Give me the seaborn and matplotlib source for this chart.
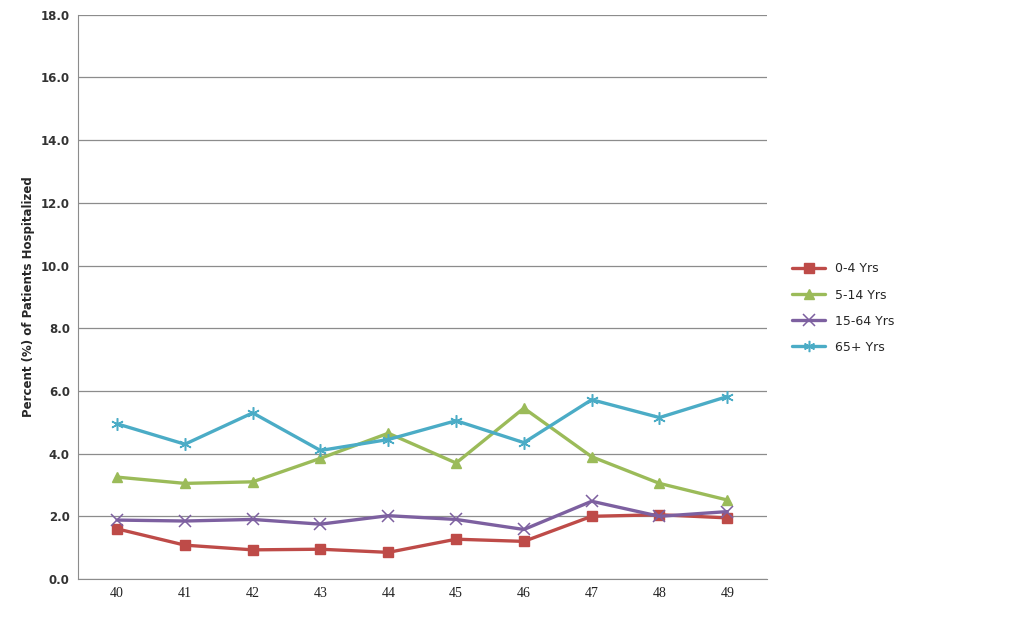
import matplotlib
matplotlib.use("Agg")
import matplotlib.pyplot as plt
import numpy as np
import pandas as pd
import seaborn as sns

weeks = ["40", "41", "42", "43", "44", "45", "46", "47", "48", "49"]
age_groups = ["0-4 Yrs", "5-14 Yrs", "15-64 Yrs", "65+ Yrs"]
v_0_4 = [1.60, 1.08, 0.93, 0.95, 0.85, 1.27, 1.20, 2.00, 2.05, 1.95]
v_5_14 = [3.25, 3.05, 3.10, 3.85, 4.65, 3.70, 5.45, 3.90, 3.05, 2.52]
v_15_64 = [1.88, 1.85, 1.90, 1.75, 2.02, 1.90, 1.58, 2.48, 2.00, 2.15]
v_65 = [4.95, 4.30, 5.30, 4.10, 4.45, 5.05, 4.35, 5.72, 5.15, 5.82]

colors = ["#BE4B48", "#9BBB59", "#7D60A0", "#4BACC6"]
markers = ["s", "^", "x", (6, 2, 0)]

rows = []
for grp, vals in zip(age_groups, [v_0_4, v_5_14, v_15_64, v_65]):
    for i, v in enumerate(vals):
        rows.append({"pos": i, "week": weeks[i], "group": grp, "value": v})
df = pd.DataFrame(rows)

sns.set_style("white")
plt.rcParams['font.family'] = ['DejaVu Sans']

fig = plt.figure(figsize=(10.21, 6.40), dpi=100)
ax = fig.add_axes([0.0765, 0.0953, 0.675, 0.8817])

for grp, c, m in zip(age_groups, colors, markers):
    sub = df[df["group"] == grp]
    ms = 7.5 if m in ("s", "^") else 9
    sns.lineplot(data=sub, x="pos", y="value", ax=ax, color=c, marker=m,
                 markersize=ms, linewidth=2.4, label=grp,
                 markeredgecolor=c, markeredgewidth=1 if m in ("s", "^") else 1.1)

ax.set_xlim(-0.575, 9.59)
ax.set_ylim(0, 18)
ax.set_yticks(np.arange(0, 18.1, 2))
ax.set_yticklabels([f"{t:.1f}" for t in np.arange(0, 18.1, 2)],
                   fontsize=8.5, fontweight="bold", color="#333333")
ax.set_xticks(range(len(weeks)))
ax.set_xticklabels(weeks, fontsize=10, family="Liberation Serif", color="#222222")
ax.yaxis.grid(True, color="#8c8c8c", linewidth=0.9)
ax.set_axisbelow(True)
for s in ["top", "right"]:
    ax.spines[s].set_visible(False)
ax.spines["left"].set_color("#8c8c8c")
ax.spines["bottom"].set_color("#8c8c8c")
ax.set_xlabel("")
ax.set_ylabel("Percent (%) of Patients Hospitalized", fontsize=8.5, fontweight="bold")
ax.tick_params(axis="both", length=0, pad=6)

leg = ax.legend(loc="center left", bbox_to_anchor=(1.02, 0.48), frameon=False,
                fontsize=9, labelspacing=1.05, handlelength=2.6, markerscale=0.9)

fig.savefig("out.png", dpi=100)
